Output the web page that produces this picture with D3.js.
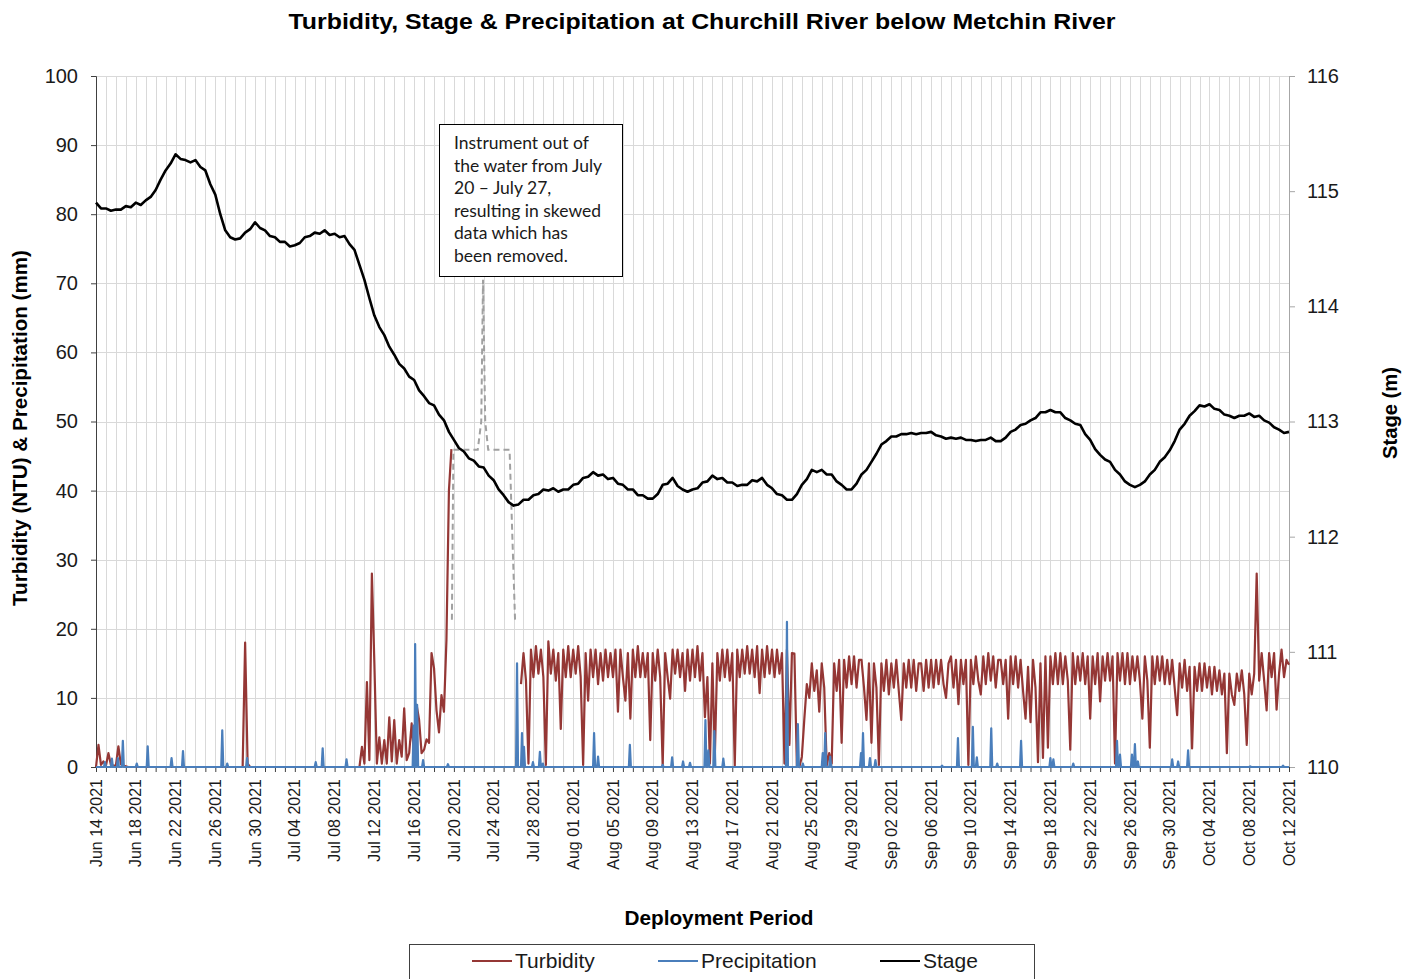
<!DOCTYPE html>
<html><head><meta charset="utf-8">
<script src="https://cdn.jsdelivr.net/npm/d3@7"></script>
<style>
body{margin:0;background:#fff;}
svg text{font-family:"Liberation Sans",Arial,sans-serif;}
</style>
</head><body>
<svg id="chart" width="1414" height="979"></svg>
<script>
// ---------------- DATA ----------------
const startDay = "2021-06-14";
const endDay = "2021-10-12";
const tickLabels = ["Jun 14 2021","Jun 18 2021","Jun 22 2021","Jun 26 2021","Jun 30 2021","Jul 04 2021","Jul 08 2021","Jul 12 2021","Jul 16 2021","Jul 20 2021","Jul 24 2021","Jul 28 2021","Aug 01 2021","Aug 05 2021","Aug 09 2021","Aug 13 2021","Aug 17 2021","Aug 21 2021","Aug 25 2021","Aug 29 2021","Sep 02 2021","Sep 06 2021","Sep 10 2021","Sep 14 2021","Sep 18 2021","Sep 22 2021","Sep 26 2021","Sep 30 2021","Oct 04 2021","Oct 08 2021","Oct 12 2021"];
const leftTicks = [0,10,20,30,40,50,60,70,80,90,100];
const rightTicks = [110,111,112,113,114,115,116];

// Stage (m), daily at 00:00
const stageDaily = [
114.90,114.85,114.84,114.87,114.90,114.92,115.01,115.18,115.32,115.27,
115.27,115.18,114.97,114.66,114.58,114.64,114.73,114.66,114.60,114.56,
114.53,114.60,114.64,114.66,114.63,114.61,114.49,114.23,113.92,113.75,
113.58,113.46,113.36,113.22,113.14,113.01,112.84,112.74,112.66,112.60,
112.49,112.36,112.27,112.32,112.36,112.41,112.42,112.41,112.45,112.51,
112.56,112.54,112.51,112.45,112.41,112.36,112.33,112.45,112.51,112.41,
112.41,112.47,112.53,112.51,112.47,112.45,112.49,112.51,112.42,112.36,
112.32,112.45,112.58,112.58,112.54,112.45,112.41,112.54,112.65,112.80,
112.87,112.89,112.90,112.90,112.91,112.87,112.86,112.86,112.84,112.84,
112.86,112.83,112.91,112.97,113.01,113.08,113.10,113.08,113.01,112.97,
112.84,112.71,112.65,112.54,112.45,112.45,112.54,112.65,112.75,112.93,
113.05,113.14,113.15,113.10,113.05,113.05,113.07,113.05,112.99,112.93,
112.91];
// Stage (m), daily at 12:00
const stageMidday = [
114.85,114.83,114.84,114.86,114.88,114.95,115.10,115.24,115.28,115.25,
115.21,115.06,114.80,114.60,114.59,114.67,114.68,114.61,114.56,114.52,
114.55,114.61,114.63,114.62,114.60,114.54,114.36,114.07,113.82,113.65,
113.50,113.39,113.27,113.16,113.06,112.91,112.77,112.68,112.61,112.53,
112.41,112.30,112.28,112.32,112.37,112.40,112.39,112.41,112.46,112.52,
112.53,112.50,112.46,112.41,112.36,112.33,112.37,112.46,112.44,112.39,
112.42,112.48,112.50,112.47,112.44,112.45,112.48,112.45,112.37,112.32,
112.37,112.50,112.56,112.54,112.48,112.41,112.46,112.58,112.72,112.83,
112.87,112.89,112.89,112.90,112.88,112.85,112.85,112.84,112.83,112.84,
112.83,112.86,112.93,112.98,113.03,113.08,113.08,113.03,112.98,112.89,
112.76,112.67,112.58,112.48,112.43,112.48,112.58,112.69,112.83,112.98,
113.09,113.13,113.11,113.06,113.03,113.05,113.04,113.01,112.95,112.90];

// Turbidity (NTU), every 6 hours from Jun 14 00:00 (null = removed data)
const turbidity = [
0,3.2,0.3,0.8, 0.2,2.0,0.3,0.2, 0.2,3.0,0.4,0.2, 0.1,0,0,0,
0,0,0,0, 0,0,0,0, 0,0,0,0, 0,0,0,0, 0,0,0,0, 0,0,0,0,
0,0,0,0, 0,0,0,0, 0,0,0,0, 0,0,0,0, 0,0,0,0,
18,0.5,0,0,
0,0,0,0, 0,0,0,0, 0,0,0,0, 0,0,0,0, 0,0,0,0,
0,0,0,0, 0,0,0,0, 0,0,0,0, 0,0,0,0, 0,0,0,0,
0,0,0,2.9, 0.5,12.3,1,28, 15,0.5,4.3,0.5, 3.9,0.5,7.2,0.8,
6.8,0.5,3.9,1.5, 8.5,1.0,2.0,6.3, 1.5,9.0,6.8,2.0, 2.5,4.0,3.5,16.5,
14.3,8.2,5.0,10.4, 8,18.4,40,46,
null,null,null,null, null,null,null,null, null,null,null,null,
null,null,null,null, null,null,null,null, null,null,null,null,
null,null,null,12,
16.5,12.5,0.5,17, 13,17.5,13.5,17, 13,0.3,18.2,13.5, 17,12.5,16.5,5.5,
17,13,17.5,13, 17,13.5,17.5,13, 0.3,16.5,9.6,17, 13,17,12,16.5,
12.5,17,13,16.5, 13,17,8,17, 13,9.6,16.5,7, 17,13,17.5,13,
16.5,13,16.5,3.9, 16.5,12.5,17,13, 0.2,16.5,13,9.9, 17,13.5,17,13,
16.5,11,17,12.5, 17,13,17.5,12.5, 16.5,7.2,13,0.5, 15,1.7,16.5,12.5,
17,13,17,12.5, 16.5,0.2,17,13, 17,13.5,17.5,13.5, 17,13,17.5,10.7,
17,13,17.5,13.5, 17,13,17,13.5, 16.5,0.5,17,3.2, 16.5,16.4,0.2,0,
1.5,7,12,10, 15,11,14,8, 15,11.5,0.2,2, 0.5,15,11,15.5,
3.5,15.5,11.5,16, 12,16,11.5,15.5, 15.5,11.5,6.8,15, 3.5,15,11.5,0.3,
15,11,15.5,10.5, 15,11.5,15.5,11, 6.8,15,11.5,15.5, 11.5,15.5,11,15,
15,11,15.5,11.5, 15.5,11.5,15.5,12, 15.5,12,10,15, 16,11.5,15.5,9.1,
15.5,12,15.5,0.3, 15.5,12,16,12.5, 10.5,16,12,16.5, 12.5,16,11.5,15.5,
15.5,12,15.5,7, 16,12,16,11.5, 15.5,11,7,14.5, 6.5,15.5,11.5,0.7,
15,1.3,16,2.8, 16,12,16.5,12, 16.5,12,16,12.5, 2.5,16.5,12,16,
12.5,16.5,12,16, 7,16,12,16.5, 9.5,16,12.5,16.5, 12.5,16,0.5,16.5,
12.5,16.5,12,16.5, 12,16,12.5,16, 12.5,7,16,12.5, 2.8,16,12,16,
12.5,16,12,15.5, 12,15.5,11.5,7.5, 15,11.5,15.5,11, 14.5,2.7,14.5,11,
15,11,15,11.5, 14.5,10.5,14.5,11, 14,10.5,13.5,2, 13.5,10.5,9,13.5,
11,14,10.5,3.2, 13.5,10.5,13.5,28, 12.5,16.5,12.5,8.2, 16.5,13,16.5,8.3,
13.5,17,13,15.5,
14.8];

// Precipitation events: day offset from Jun 14 and amount (mm)
const precipDay = [0.9,1.6,2.2,2.7,4.1,5.2,7.6,8.75,12.7,13.2,15.2,22.1,22.8,25.2,31.95,32.1,32.3,32.9,35.4,42.35,42.85,43.05,43.95,44.65,44.95,50.1,50.5,53.7,57.0,57.95,59.05,59.75,61.3,61.6,62.2,63.1,69.5,70.6,71.1,73.1,73.35,73.85,76.95,77.15,77.85,78.4,85.1,86.7,88.2,88.6,90.05,90.65,93.05,96.0,96.3,98.3,102.7,103.0,104.2,104.5,104.8,108.25,108.85,109.85,116.1,119.4];
const precipMm = [0.7,1.2,1.3,3.8,0.5,3.0,1.3,2.3,5.3,0.5,1.3,0.7,2.7,1.1,6.0,17.8,9.0,1.0,0.4,15,4.9,2.9,0.7,2.2,0.5,4.9,1.5,3.2,0.3,1.4,0.8,0.6,6.8,2.4,5.2,1.2,21,6.2,0.5,2.0,4.9,1.5,2.0,4.9,1.3,1.0,0.2,4.2,5.8,1.4,5.6,0.5,3.8,1.3,1.1,0.5,3.8,1.8,1.8,3.3,0.8,1.1,0.8,2.4,0.1,0.2];

// Removed (skewed) turbidity data, shown dashed
const removedDay = [35.8,35.95,38.4,38.75,38.93,39.15,39.45,41.6,42.15];
const removedVal = [21.3,45.9,45.9,50,70.5,50,45.9,45.9,21.3];

const noteLines = ["Instrument out of","the water from July","20 \u2013 July 27,","resulting in skewed","data which has","been removed."];

// ---------------- CHART ----------------
const svg = d3.select("#chart");
const parse = d3.utcParse("%Y-%m-%d");
const t0 = parse(startDay), t1 = parse(endDay);
const dayMs = 864e5;
const at = d => new Date(t0.getTime() + d*dayMs);

const M = {left:96, right:1289, top:76, bottom:767};
const x = d3.scaleUtc().domain([t0,t1]).range([M.left,M.right]);
const yL = d3.scaleLinear().domain([0,100]).range([M.bottom,M.top]);
const yR = d3.scaleLinear().domain([110,116]).range([M.bottom,M.top]);

const days = d3.utcDay.range(t0, new Date(t1.getTime()+1));

// gridlines
const grid = svg.append("g");
grid.selectAll("line.v").data(days).join("line")
  .attr("x1",d=>Math.round(x(d))+0.5).attr("x2",d=>Math.round(x(d))+0.5)
  .attr("y1",M.top).attr("y2",M.bottom)
  .attr("stroke","#d9d9d9").attr("stroke-width",1);
grid.selectAll("line.h").data(leftTicks).join("line")
  .attr("x1",M.left).attr("x2",M.right)
  .attr("y1",d=>Math.round(yL(d))+0.5).attr("y2",d=>Math.round(yL(d))+0.5)
  .attr("stroke","#d9d9d9").attr("stroke-width",1);

// axes
const axL = svg.append("g").attr("transform",`translate(${M.left},0)`)
  .call(d3.axisLeft(yL).tickValues(leftTicks).tickSize(5).tickPadding(13));
axL.select(".domain").attr("stroke","#404040");
axL.selectAll(".tick line").attr("stroke","#404040");
axL.selectAll("text").style("font-size","20px").attr("fill","#1a1a1a");

const axR = svg.append("g").attr("transform",`translate(${M.right},0)`)
  .call(d3.axisRight(yR).tickValues(rightTicks).tickFormat(d3.format("d")).tickSize(6).tickPadding(12));
axR.select(".domain").attr("stroke","#a6a6a6");
axR.selectAll(".tick line").attr("stroke","#a6a6a6");
axR.selectAll("text").style("font-size","20px").attr("fill","#1a1a1a");

const axB = svg.append("g").attr("transform",`translate(0,${M.bottom})`)
  .call(d3.axisBottom(x).tickValues(days).tickSize(5).tickFormat(""));
axB.select(".domain").attr("stroke","#a6a6a6");
axB.selectAll(".tick line").attr("stroke","#404040");

svg.append("g").selectAll("text").data(tickLabels).join("text")
  .attr("transform",(d,i)=>`translate(${x(at(i*4))},${M.bottom+12}) rotate(-90)`)
  .attr("text-anchor","end").attr("dy","0.35em")
  .style("font-size","16px").attr("fill","#1a1a1a")
  .text(d=>d);

// series
const line6h = d3.line()
  .defined(d=>d!=null)
  .x((d,i)=>x(at(i/4))).y(d=>yL(d));
svg.append("path").datum(turbidity)
  .attr("d",line6h).attr("fill","none")
  .attr("stroke","#953735").attr("stroke-width",2.2).attr("stroke-linejoin","round");

const removed = removedDay.map((d,i)=>[d,removedVal[i]]);
svg.append("path").datum(removed)
  .attr("d",d3.line().x(d=>x(at(d[0]))).y(d=>yL(d[1])))
  .attr("fill","none").attr("stroke","#a0a0a0").attr("stroke-width",2)
  .attr("stroke-dasharray","6,4");

let pp = [[0,0]];
precipDay.forEach((d,i)=>{ pp.push([d-0.1,0],[d,precipMm[i]],[d+0.1,0]); });
pp.push([120,0]);
pp.sort((a,b)=>a[0]-b[0]);
svg.append("path").datum(pp)
  .attr("d",d3.line().x(d=>x(at(d[0]))).y(d=>yL(d[1])))
  .attr("fill","none").attr("stroke","#4a7ebb").attr("stroke-width",2.2)
  .attr("stroke-linejoin","round");

const stage = [];
stageDaily.forEach((v,i)=>{ stage.push([i,v]); if(i<stageMidday.length) stage.push([i+0.5,stageMidday[i]]); });
svg.append("path").datum(stage)
  .attr("d",d3.line().x(d=>x(at(d[0]))).y(d=>yR(d[1])))
  .attr("fill","none").attr("stroke","#000").attr("stroke-width",2.6)
  .attr("stroke-linejoin","round");

// annotation box
svg.append("rect").attr("x",439.5).attr("y",124.5).attr("width",183).attr("height",152)
  .attr("fill","#fff").attr("stroke","#000").attr("stroke-width",1);
svg.append("g").selectAll("text").data(noteLines).join("text")
  .attr("x",454).attr("y",(d,i)=>149+i*22.6)
  .style("font-family","Lato, 'Open Sans', sans-serif").style("font-size","17.5px").attr("fill","#1a1a1a")
  .text(d=>d);

// titles
svg.append("text").attr("x",702).attr("y",29).attr("text-anchor","middle")
  .attr("textLength",827).attr("lengthAdjust","spacingAndGlyphs")
  .style("font-size","22px").style("font-weight","bold").attr("fill","#000")
  .text("Turbidity, Stage & Precipitation at Churchill River below Metchin River");
svg.append("text").attr("x",719).attr("y",925).attr("text-anchor","middle")
  .attr("textLength",189).attr("lengthAdjust","spacingAndGlyphs")
  .style("font-size","20px").style("font-weight","bold").attr("fill","#000")
  .text("Deployment Period");
svg.append("text").attr("transform","translate(27,428) rotate(-90)").attr("text-anchor","middle")
  .attr("textLength",356).attr("lengthAdjust","spacingAndGlyphs")
  .style("font-size","20px").style("font-weight","bold").attr("fill","#000")
  .text("Turbidity (NTU) & Precipitation (mm)");
svg.append("text").attr("transform","translate(1397,413) rotate(-90)").attr("text-anchor","middle")
  .attr("textLength",92).attr("lengthAdjust","spacingAndGlyphs")
  .style("font-size","20px").style("font-weight","bold").attr("fill","#000")
  .text("Stage (m)");

// legend
const legendNames = ["Turbidity","Precipitation","Stage"];
const legendColors = ["#953735","#4a7ebb","#000"];
const legendX = [472,658,880];
svg.append("rect").attr("x",409.5).attr("y",944.5).attr("width",625).attr("height",50)
  .attr("fill","#fff").attr("stroke","#404040").attr("stroke-width",1);
const lg = svg.append("g").selectAll("g").data(legendNames).join("g")
  .attr("transform",(d,i)=>`translate(${legendX[i]},961)`);
lg.append("line").attr("x1",0).attr("x2",40).attr("y1",0).attr("y2",0)
  .attr("stroke",(d,i)=>legendColors[i]).attr("stroke-width",2);
lg.append("text").attr("x",43).attr("dy","0.35em")
  .style("font-size","21px").attr("fill","#1a1a1a").text(d=>d);
</script>
</body></html>
